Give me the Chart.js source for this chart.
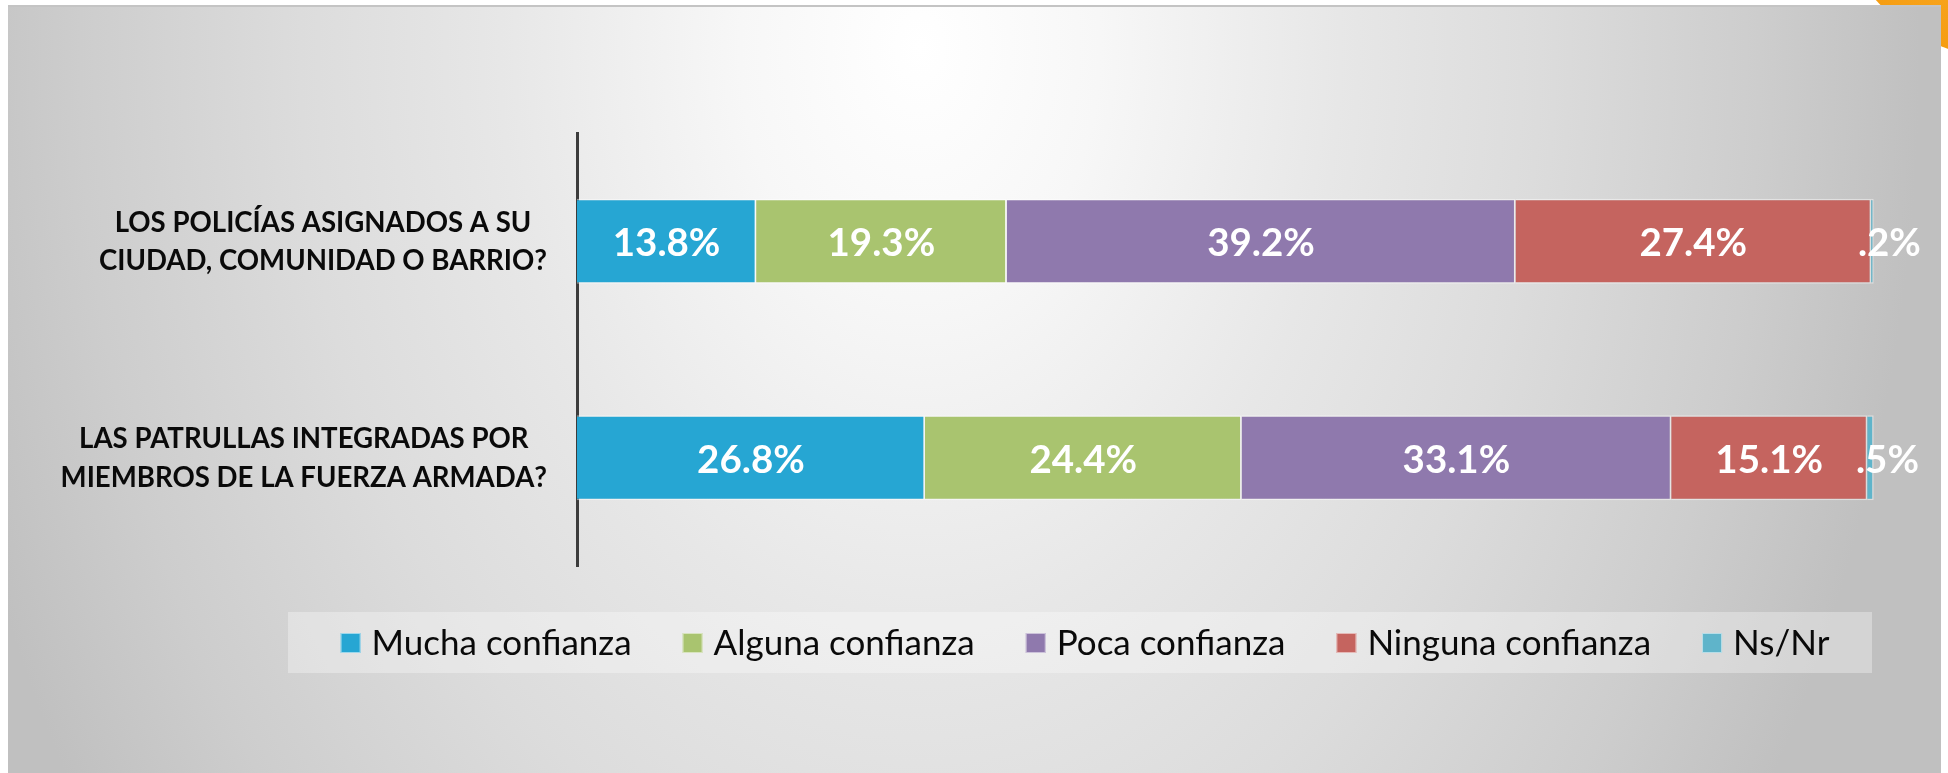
<!DOCTYPE html>
<html>
<head>
<meta charset="utf-8">
<script src="https://cdn.jsdelivr.net/npm/chart.js@4.4.1/dist/chart.umd.min.js"></script>
<style>
html,body{margin:0;padding:0;width:1948px;height:773px;overflow:hidden;background:#ffffff;}
#blob{position:absolute;left:1830px;top:-300px;width:360px;height:360px;border-radius:50%;
  background:radial-gradient(circle at 35% 70%, #f8a824 0%, #f39200 55%, #e88a00 100%);}
#slide{position:absolute;left:8px;top:5px;width:1933px;height:768px;box-sizing:border-box;
  border-top:2px solid #c4c4c4;
  background:radial-gradient(ellipse 1000px 1400px at 912px 40px, #ffffff 0%, #f7f7f7 18%, #e7e7e7 42%, #dcdcdc 62%, #cdcdcd 84%, #c0c0c0 100%);}
#legendBox{position:absolute;left:288px;top:612px;width:1584px;height:61px;background:rgba(255,255,255,0.32);}
#c{position:absolute;left:0;top:0;}
</style>
</head>
<body>
<div id="blob"></div>
<div id="slide"></div>
<div id="legendBox"></div>
<canvas id="c" width="1948" height="773"></canvas>
<script>
// ---- data ----
const categories = [
  ["LOS POLICÍAS ASIGNADOS A SU", "CIUDAD, COMUNIDAD O BARRIO?"],
  ["LAS PATRULLAS INTEGRADAS POR", "MIEMBROS DE LA FUERZA ARMADA?"]
];
const seriesNames = ["Mucha confianza", "Alguna confianza", "Poca confianza", "Ninguna confianza", "Ns/Nr"];
const muchaConfianza   = [13.8, 26.8];
const algunaConfianza  = [19.3, 24.4];
const pocaConfianza    = [39.2, 33.1];
const ningunaConfianza = [27.4, 15.1];
const nsNr             = [0.2, 0.5];
const seriesColors = ["#26A6D3", "#A9C46F", "#8F79AD", "#C5645F", "#5FB4CA"];

const seriesValues = [muchaConfianza, algunaConfianza, pocaConfianza, ningunaConfianza, nsNr];

function fmtPct(v) {
  let s = v.toFixed(1);
  if (s.startsWith("0.")) s = s.slice(1);
  return s + "%";
}

const labelPlugin = {
  id: "customLabels",
  afterDatasetsDraw(chart) {
    const ctx = chart.ctx;
    // data labels
    ctx.save();
    const dlSize = 38.5;
    ctx.font = "bold " + dlSize + "px Lato";
    ctx.fillStyle = "#ffffff";
    ctx.textAlign = "center";
    ctx.textBaseline = "alphabetic";
    chart.data.datasets.forEach((ds, di) => {
      const meta = chart.getDatasetMeta(di);
      meta.data.forEach((bar, i) => {
        const txt = fmtPct(ds.data[i]);
        const w = ctx.measureText(txt).width;
        const segW = Math.abs(bar.x - bar.base);
        let cx = (bar.x + bar.base) / 2;
        if (segW < w) cx += 17;
        ctx.fillText(txt, cx, bar.y + dlSize * 0.72 / 2 + 1);
      });
    });
    ctx.restore();

    // category labels (each block right-aligned to axis, lines centered within block)
    const ys = chart.scales.y;
    ctx.save();
    const clSize = 27.6;
    ctx.font = "bold " + clSize + "px Lato";
    ctx.fillStyle = "#0a0a0a";
    ctx.textAlign = "center";
    ctx.textBaseline = "alphabetic";
    const lineH = 38.5;
    chart.data.labels.forEach((lab, i) => {
      const lines = Array.isArray(lab) ? lab : [lab];
      const blockW = Math.max(...lines.map(l => ctx.measureText(l).width));
      const right = ys.right - 30;
      const cx = right - blockW / 2;
      const cy = ys.getPixelForTick(i);
      lines.forEach((l, j) => {
        const y = cy + (j - (lines.length - 1) / 2) * lineH + clSize * 0.72 / 2;
        ctx.fillText(l, cx, y);
      });
    });
    ctx.restore();

    // legend
    ctx.save();
    const lgSize = 35;
    ctx.font = lgSize + "px Lato";
    ctx.textBaseline = "alphabetic";
    ctx.textAlign = "left";
    const box = 20, gapBT = 11, gapItem = 51;
    const items = chart.data.datasets.map(ds => ({ text: ds.label, color: ds.backgroundColor, w: ctx.measureText(ds.label).width }));
    const total = items.reduce((s, it) => s + box + gapBT + it.w, 0) + gapItem * (items.length - 1);
    const centerX = 1085, centerY = 643;
    let x = centerX - total / 2;
    items.forEach(it => {
      ctx.fillStyle = it.color;
      ctx.fillRect(x, centerY - box / 2, box, box);
      ctx.strokeStyle = "rgba(255,255,255,0.55)";
      ctx.lineWidth = 1;
      ctx.strokeRect(x + 0.5, centerY - box / 2 + 0.5, box - 1, box - 1);
      ctx.fillStyle = "#0a0a0a";
      ctx.fillText(it.text, x + box + gapBT, centerY + lgSize * 0.72 / 2 - 1);
      x += box + gapBT + it.w + gapItem;
    });
    ctx.restore();
  }
};

const datasets = seriesNames.map((name, k) => ({
  label: name,
  data: seriesValues[k],
  backgroundColor: seriesColors[k],
  borderColor: "rgba(255,255,255,0.45)",
  borderWidth: 1.5,
  categoryPercentage: 1.0,
  barPercentage: 0.393
}));

new Chart(document.getElementById("c"), {
  type: "bar",
  data: { labels: categories, datasets: datasets },
  options: {
    indexAxis: "y",
    responsive: false,
    maintainAspectRatio: false,
    animation: false,
    devicePixelRatio: 1,
    layout: { padding: { left: 0, right: 73, top: 133, bottom: 207 } },
    scales: {
      x: { stacked: true, min: 0, max: 100, display: false },
      y: {
        stacked: true,
        ticks: { display: false },
        grid: { display: false, drawTicks: false },
        border: { display: true, color: "#3c3c3c", width: 3 },
        afterFit(scale) { scale.width = 577; }
      }
    },
    plugins: { legend: { display: false }, tooltip: { enabled: false } }
  },
  plugins: [labelPlugin]
});
</script>
</body>
</html>
